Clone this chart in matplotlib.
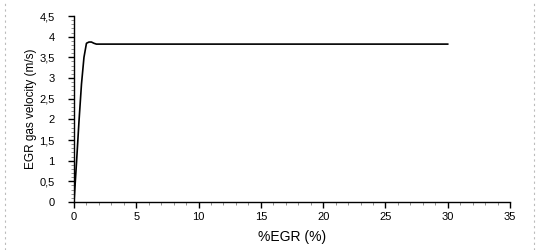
import matplotlib
matplotlib.use("Agg")
import matplotlib.pyplot as plt
from matplotlib.ticker import MultipleLocator, FuncFormatter
from matplotlib.lines import Line2D

plt.rcParams['font.family'] = ['Liberation Sans', 'DejaVu Sans']

# %EGR vs EGR gas velocity
egr = [0, 0.2, 0.4, 0.6, 0.8, 1.0, 1.2, 1.4, 1.6, 1.8, 2.0, 30]
velocity = [0, 0.95, 1.95, 2.85, 3.5, 3.84, 3.87, 3.87, 3.84, 3.82, 3.82, 3.82]

fig = plt.figure(figsize=(5.4, 2.5), dpi=100)
ax = fig.add_axes([74/540, 48/250, 436/540, 186/250])

ax.plot(egr, velocity, color='black', lw=1.2)

ax.set_xlim(0, 35)
ax.set_ylim(0, 4.5)
ax.xaxis.set_major_locator(MultipleLocator(5))
ax.xaxis.set_minor_locator(MultipleLocator(1))
ax.yaxis.set_major_locator(MultipleLocator(0.5))
ax.yaxis.set_minor_locator(MultipleLocator(0.1))

comma = FuncFormatter(lambda v, p: ('%g' % v).replace('.', ','))
ax.xaxis.set_major_formatter(comma)
ax.yaxis.set_major_formatter(comma)

for s in ['top', 'right']:
    ax.spines[s].set_visible(False)
for s in ['left', 'bottom']:
    ax.spines[s].set_linewidth(1.0)

ax.tick_params(which='major', length=4, width=1, labelsize=8, pad=3)
ax.tick_params(axis='y', which='major', pad=10)
ax.tick_params(which='minor', length=2, width=0.6, color='gray')

ax.set_xlabel('%EGR (%)', fontsize=10, labelpad=6)
ax.set_ylabel('EGR gas velocity (m/s)', fontsize=8.5)
ax.yaxis.set_label_coords(-37/436, 0.5)

# dotted frame edges
for xf in [4.5/540, 533.5/540]:
    fig.add_artist(Line2D([xf, xf], [0, 1], transform=fig.transFigure,
                          color='#bbbbbb', lw=0.8, ls=(0, (2, 3))))

fig.savefig('out.png', dpi=100)
